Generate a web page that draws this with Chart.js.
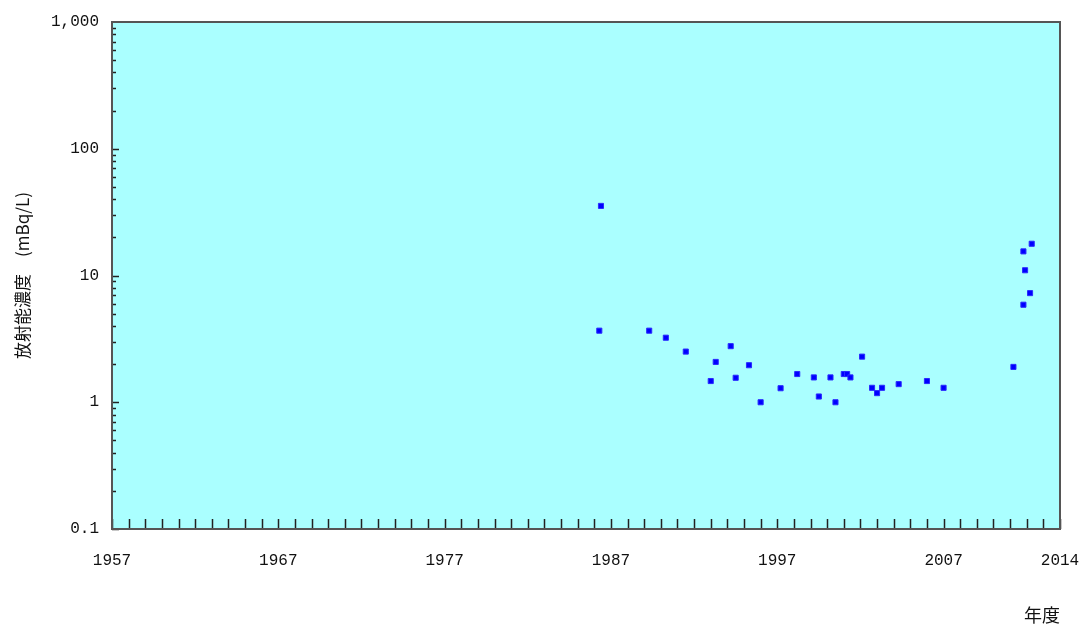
<!DOCTYPE html>
<html>
<head>
<meta charset="utf-8">
<script src="https://cdn.jsdelivr.net/npm/chart.js@4"></script>
<style>
  html, body { margin: 0; padding: 0; background: #fff; }
  #wrap { width: 1085px; height: 632px; }
</style>
</head>
<body>
<div id="wrap"><canvas id="chart" width="1085" height="632"></canvas></div>
<script>
// measured values (fiscal year, mBq/L)
const years = [1986.4, 1986.3, 1989.3, 1990.3, 1991.5, 1993.0, 1993.3, 1994.2, 1994.5, 1995.3,
  1996.0, 1997.2, 1998.2, 1999.2, 1999.5, 2000.2, 2000.5, 2001.0, 2001.2, 2001.4,
  2002.1, 2002.7, 2003.0, 2003.3, 2004.3, 2006.0, 2007.0, 2011.2, 2011.8, 2011.9,
  2012.2, 2011.8, 2012.3];
const values = [35.4, 3.67, 3.67, 3.23, 2.51, 1.47, 2.08, 2.77, 1.56, 1.96,
  1.0, 1.29, 1.67, 1.57, 1.11, 1.57, 1.0, 1.67, 1.67, 1.57,
  2.29, 1.30, 1.18, 1.30, 1.39, 1.47, 1.30, 1.90, 5.88, 11.0,
  7.26, 15.5, 17.8];
const xLabels = [1957, 1967, 1977, 1987, 1997, 2007, 2014];
const yLabels = [0.1, 1, 10, 100, 1000];

const font = { family: 'Liberation Mono', size: 16 };
const points = years.map((y, i) => ({ x: y, y: values[i] }));

// inward tick marks + plot frame
const frame = {
  id: 'frame',
  beforeDatasetsDraw(chart) {
    const { ctx, chartArea: a, scales: { x, y } } = chart;
    ctx.save();
    ctx.strokeStyle = '#222';
    ctx.lineWidth = 1.5;
    ctx.beginPath();
    for (let yr = 1957; yr <= 2014; yr++) {
      const px = Math.round(x.getPixelForValue(yr)) + 0.5;
      ctx.moveTo(px, a.bottom);
      ctx.lineTo(px, a.bottom - 10);
    }
    for (let d = -1; d < 3; d++) {
      for (let m = 1; m <= 9; m++) {
        const v = m * Math.pow(10, d);
        const py = Math.round(y.getPixelForValue(v)) + 0.5;
        ctx.moveTo(a.left, py);
        ctx.lineTo(a.left + (m === 1 ? 7 : 4), py);
      }
    }
    ctx.stroke();
    ctx.strokeStyle = '#555';
    ctx.lineWidth = 2;
    ctx.strokeRect(a.left, a.top, a.right - a.left, a.bottom - a.top);
    ctx.restore();
  }
};

const bg = {
  id: 'bg',
  beforeDraw(chart) {
    const { ctx, chartArea: a } = chart;
    ctx.save();
    ctx.fillStyle = '#aaffff';
    ctx.fillRect(a.left, a.top, a.right - a.left, a.bottom - a.top);
    ctx.restore();
  }
};

new Chart(document.getElementById('chart'), {
  type: 'scatter',
  data: {
    datasets: [{
      data: points,
      pointStyle: 'rect',
      pointRadius: 3.6,
      pointHoverRadius: 3.6,
      backgroundColor: '#0000ff',
      borderColor: '#2a2aff',
      borderWidth: 1
    }]
  },
  options: {
    responsive: false,
    animation: false,
    events: [],
    layout: { padding: { top: 22, right: 0, left: 0, bottom: 0 } },
    plugins: { legend: { display: false }, tooltip: { enabled: false } },
    scales: {
      x: {
        type: 'linear',
        min: 1957,
        max: 2014,
        afterBuildTicks(scale) { scale.ticks = xLabels.map(v => ({ value: v })); },
        afterFit(scale) { scale.height = 632 - 529; scale.paddingRight = 25; },
        ticks: {
          autoSkip: false, maxRotation: 0, padding: 14, color: '#111', font,
          callback: v => String(v)
        },
        grid: { display: false },
        border: { display: false },
        title: {
          display: true, text: '年度', align: 'end', color: '#111',
          font: { family: 'Noto Sans CJK JP', size: 18 },
          padding: { top: 0, bottom: 6 }
        }
      },
      y: {
        type: 'logarithmic',
        min: 0.1,
        max: 1000,
        afterBuildTicks(scale) { scale.ticks = yLabels.map(v => ({ value: v })); },
        afterFit(scale) { scale.width = 112; },
        ticks: {
          padding: 5, color: '#111', font,
          callback: v => v >= 1000 ? v.toLocaleString('en-US') : String(v)
        },
        grid: { display: false },
        border: { display: false },
        title: {
          display: true, text: '放射能濃度　(mBq/L)', color: '#111',
          font: { family: 'Noto Sans CJK JP', size: 17 },
          padding: { top: 12, bottom: 0 }
        }
      }
    }
  },
  plugins: [bg, frame]
});
</script>
</body>
</html>
